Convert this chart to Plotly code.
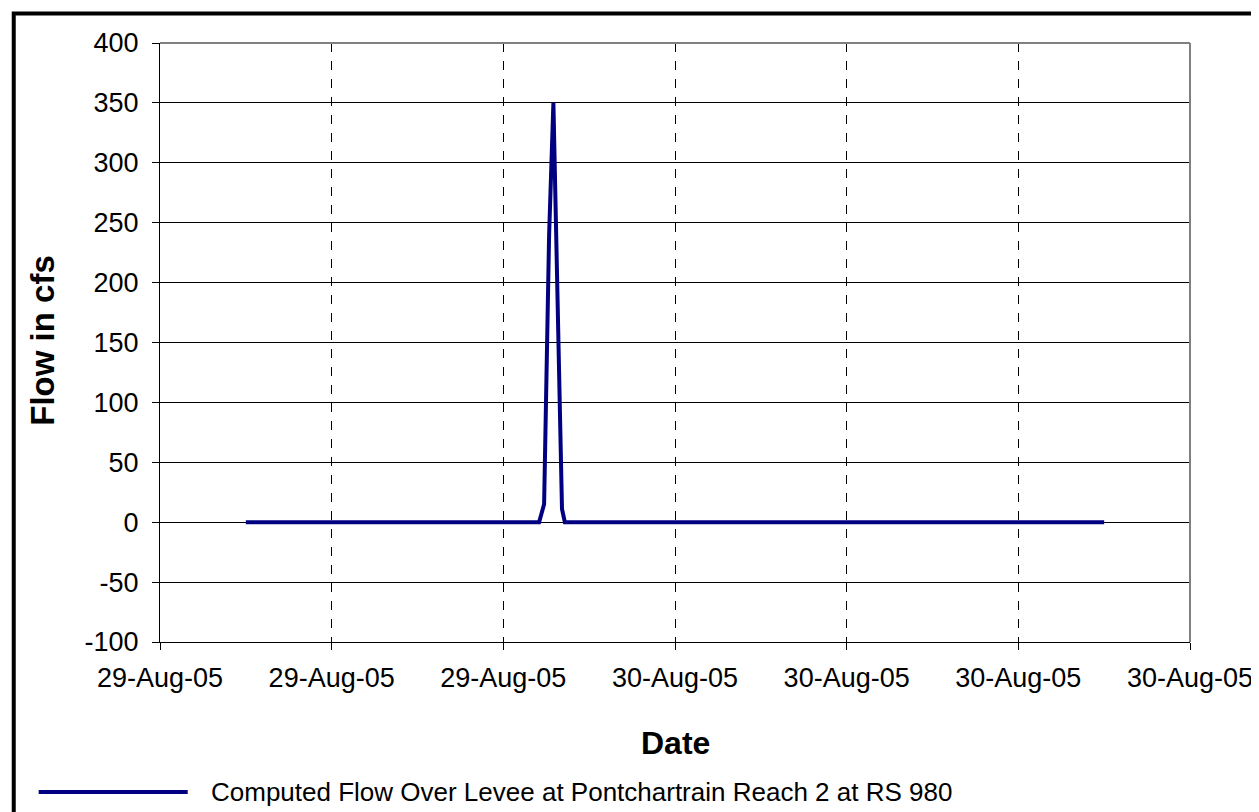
import plotly.graph_objects as go

# ---- data ----
times = [
    "2005-08-29 14:00", "2005-08-29 20:50", "2005-08-29 20:57",
    "2005-08-29 21:04", "2005-08-29 21:10", "2005-08-29 21:19",
    "2005-08-29 21:22", "2005-08-29 21:26", "2005-08-30 10:00",
]
flow_cfs = [0, 0, 15, 240, 350, 117, 11, 0, 0]
series_name = "Computed Flow Over Levee at Pontchartrain Reach 2 at RS 980"
x_title = "Date"
y_title = "Flow in cfs"
x_range = ["2005-08-29 12:00", "2005-08-30 12:00"]
y_ticks = [-100, -50, 0, 50, 100, 150, 200, 250, 300, 350, 400]
y_ticktext = [str(v) for v in y_ticks]

FONT = "Liberation Sans, Arial, sans-serif"
NAVY = "#000080"

fig = go.Figure()
fig.add_trace(go.Scatter(
    x=times, y=flow_cfs, mode="lines", name=series_name,
    line=dict(color=NAVY, width=4), showlegend=False,
))

fig.update_layout(
    width=1259, height=812,
    margin=dict(l=152, r=77, t=35, b=178),
    paper_bgcolor="white", plot_bgcolor="white",
    font=dict(family=FONT, color="black", size=26),
    xaxis=dict(
        type="date", range=x_range, dtick=4 * 3600 * 1000,
        tick0="2005-08-29 12:00", tickformat="%d-%b-%y",
        showgrid=True, gridcolor="black", gridwidth=1, griddash="dash",
        showline=True, linecolor="black", linewidth=1,
        ticks="outside", ticklen=7, tickcolor="black",
        tickfont=dict(size=27), zeroline=False, ticklabelstandoff=5,
    ),
    yaxis=dict(
        range=[-100, 400], tickvals=y_ticks, ticktext=y_ticktext,
        showgrid=True, gridcolor="black", gridwidth=1,
        showline=True, linecolor="black", linewidth=1,
        ticks="outside", ticklen=7, tickcolor="black",
        tickfont=dict(size=27), zeroline=False, ticklabelstandoff=8,
    ),
)

# plot-area border (top/right grey as in Excel)
fig.add_shape(type="line", xref="paper", yref="paper", x0=0, x1=1, y0=1, y1=1,
              line=dict(color="#808080", width=2))
fig.add_shape(type="line", xref="paper", yref="paper", x0=1, x1=1, y0=0, y1=1,
              line=dict(color="#808080", width=2))

# axis titles
fig.add_annotation(text=f"<b>{y_title}</b>", xref="paper", yref="paper",
                   x=-0.1149, y=0.504, textangle=-90, showarrow=False,
                   font=dict(size=33), xanchor="center", yanchor="middle")
fig.add_annotation(text=f"<b>{x_title}</b>", xref="paper", yref="paper",
                   x=0.5, y=-0.1686, showarrow=False,
                   font=dict(size=32), xanchor="center", yanchor="middle")

# legend (drawn manually to get the long Excel-style key line)
fig.add_shape(type="line", xref="paper", yref="paper",
              x0=-0.1178, x1=0.0269, y0=-0.2504, y1=-0.2504,
              line=dict(color=NAVY, width=4))
fig.add_annotation(text=series_name, xref="paper", yref="paper",
                   x=(201 - 152.3) / 1030, y=-0.2504, showarrow=False,
                   font=dict(size=26), xanchor="left", yanchor="middle")

# outer chart border
fig.add_shape(type="rect", xref="paper", yref="paper",
              x0=-0.1420, x1=1.0696, y0=-0.3038, y1=1.0492,
              line=dict(color="black", width=4))

fig.write_html("out.html")
